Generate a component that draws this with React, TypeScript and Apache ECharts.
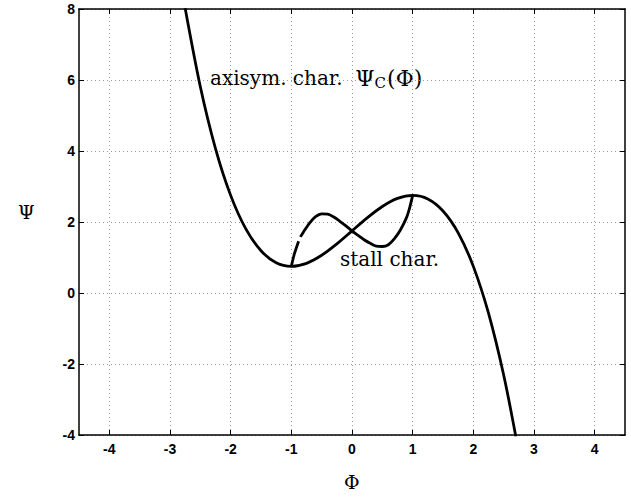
import React, { useEffect, useRef } from "react";
import * as echarts from "echarts";

// Axisymmetric characteristic Psi_C(Phi)
const phiAxisym = [-2.75, -2.5, -2.25, -2.0, -1.75, -1.5, -1.25, -1.0, -0.75, -0.5, -0.25, 0, 0.25, 0.5, 0.75, 1.0, 1.25, 1.5, 1.75, 2.0, 2.25, 2.5, 2.7];
const psiAxisym = [8.02, 5.81, 4.07, 2.75, 1.805, 1.19, 0.852, 0.75, 0.836, 1.0625, 1.383, 1.75, 2.117, 2.4375, 2.664, 2.75, 2.648, 2.31, 1.695, 0.75, -0.57, -2.31, -4.04];

// Stall characteristic (short first piece, then the main piece)
const phiStallA = [-1.0, -0.95, -0.88];
const psiStallA = [0.75, 1.1, 1.46];
const phiStallB = [-0.85, -0.8, -0.7, -0.6, -0.5, -0.4, -0.3, -0.2, -0.1, 0, 0.1, 0.2, 0.3, 0.4, 0.5, 0.6, 0.7, 0.8, 0.9, 0.95, 1.0];
const psiStallB = [1.58, 1.72, 1.97, 2.15, 2.23, 2.22, 2.14, 2.02, 1.89, 1.75, 1.62, 1.5, 1.4, 1.32, 1.31, 1.36, 1.53, 1.78, 2.13, 2.4, 2.75];

const xTicks = [-4, -3, -2, -1, 0, 1, 2, 3, 4];
const yTicks = [-4, -2, 0, 2, 4, 6, 8];

const zip = (xs: number[], ys: number[]) => xs.map((x, i) => [x, ys[i]]);

export default function App() {
  const ref = useRef<HTMLDivElement>(null);
  useEffect(() => {
    if (!ref.current) return;
    const chart = echarts.init(ref.current, undefined, { renderer: "svg" });
    const tickFont = { fontFamily: "Liberation Sans", fontWeight: "bold" as const, fontSize: 14, color: "#000" };
    const gridLine = { show: true, lineStyle: { color: "#999", width: 1, type: [1, 3] as any } };
    const curve = { color: "#000", width: 2.8 };
    chart.setOption({
      animation: false,
      backgroundColor: "#fff",
      grid: { left: 79, right: 6, top: 9, bottom: 67, containLabel: false },
      xAxis: [
        {
          type: "value", min: -4.5, max: 4.5, position: "bottom",
          axisLine: { show: true, onZero: false, lineStyle: { color: "#000", width: 1.5 } },
          axisTick: { show: true, inside: true, length: 5, customValues: xTicks, lineStyle: { color: "#000" } },
          axisLabel: { ...tickFont, margin: 7, customValues: xTicks },
          splitLine: gridLine,
        },
        {
          type: "value", min: -4.5, max: 4.5, position: "top",
          axisLine: { show: true, onZero: false, lineStyle: { color: "#000", width: 1.5 } },
          axisTick: { show: true, inside: true, length: 5, customValues: xTicks, lineStyle: { color: "#000" } },
          axisLabel: { show: false },
          splitLine: { show: false },
        },
      ],
      yAxis: [
        {
          type: "value", min: -4, max: 8, interval: 2, position: "left",
          axisLine: { show: true, onZero: false, lineStyle: { color: "#000", width: 1.5 } },
          axisTick: { show: true, inside: true, length: 5, lineStyle: { color: "#000" } },
          axisLabel: { ...tickFont, margin: 4, customValues: yTicks },
          splitLine: gridLine,
        },
        {
          type: "value", min: -4, max: 8, interval: 2, position: "right",
          axisLine: { show: true, onZero: false, lineStyle: { color: "#000", width: 1.5 } },
          axisTick: { show: true, inside: true, length: 5, lineStyle: { color: "#000" } },
          axisLabel: { show: false },
          splitLine: { show: false },
        },
      ],
      series: [
        { name: "axisym. char.", type: "line", data: zip(phiAxisym, psiAxisym), smooth: 0.3, showSymbol: false, lineStyle: curve, clip: true },
        { name: "stall char. a", type: "line", data: zip(phiStallA, psiStallA), smooth: 0.3, showSymbol: false, lineStyle: curve, clip: true },
        { name: "stall char. b", type: "line", data: zip(phiStallB, psiStallB), smooth: 0.3, showSymbol: false, lineStyle: curve, clip: true },
      ],
      graphic: [
        {
          type: "text", left: 210, top: 67,
          style: {
            text: "{a|axisym. char.  }{b|Ψ}{c|C}{b|(Φ)}",
            rich: {
              a: { fontFamily: "DejaVu Serif", fontSize: 20, fill: "#000" },
              b: { fontFamily: "DejaVu Serif", fontSize: 22, fill: "#000" },
              c: { fontFamily: "DejaVu Serif", fontSize: 15, fill: "#000", padding: [9, 1, 0, 0] },
            },
          },
        },
        { type: "text", left: 340, top: 249, style: { text: "stall char.", fontFamily: "DejaVu Serif", fontSize: 20, fill: "#000" } },
        { type: "text", left: 18, top: 202, style: { text: "Ψ", fontFamily: "DejaVu Serif", fontSize: 19, fill: "#000" } },
        { type: "text", left: 344, top: 472, style: { text: "Φ", fontFamily: "DejaVu Serif", fontSize: 19, fill: "#000" } },
      ],
    });
    return () => chart.dispose();
  }, []);
  return <div ref={ref} style={{ position: "fixed", left: 0, top: 0, width: 631, height: 502, background: "#fff" }} />;
}
